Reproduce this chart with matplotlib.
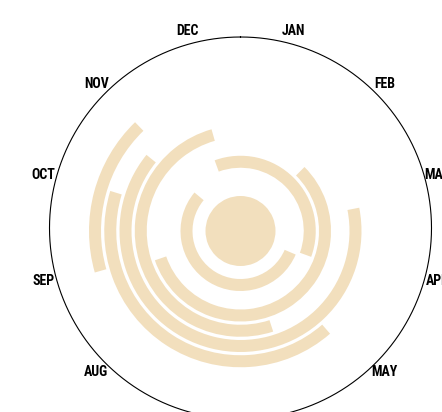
import numpy as np
import matplotlib
matplotlib.use("Agg")
import matplotlib.pyplot as plt

# months around the dial (clockwise, Jan centred just right of top)
months = ['JAN', 'FEB', 'MAR', 'APR', 'MAY', 'JUN',
          'JUL', 'AUG', 'SEP', 'OCT', 'NOV', 'DEC']

# each ring: start / end in months since Jan 1 (end may pass 12 = wraps into next year)
ring_start = [3.77, 11.33, 1.50, 5.40, 2.63, 4.63, 8.47]
ring_end   = [10.33, 15.67, 8.37, 11.47, 10.30, 9.57, 10.53]

beige = '#f2dfbd'
W, H = 442, 412


def polar_axes(cx, cy, Rax):
    # polar axes whose data radius is in pixels, centre (cx, cy) from top-left
    a = fig.add_axes([(cx - Rax) / W, (H - cy - Rax) / H, 2 * Rax / W, 2 * Rax / H],
                     projection='polar')
    a.set_theta_zero_location('N')
    a.set_theta_direction(-1)
    a.set_ylim(0, Rax)
    a.set_axis_off()
    return a


fig = plt.figure(figsize=(W / 100, H / 100), dpi=100)

# outer ring + month labels
R = 191
frame = polar_axes(240.5, 228, R + 5)
th_circle = np.linspace(0, 2 * np.pi, 721)
frame.plot(th_circle, np.full_like(th_circle, R), color='black', lw=0.8,
           clip_on=False, solid_joinstyle='round')
for i, m in enumerate(months):
    th = (i + 0.5) / 12 * 2 * np.pi
    frame.text(th, 204, m, ha='center', va='center',
               fontsize=10, fontweight='bold',
               family=['Roboto Condensed', 'Liberation Sans Narrow', 'DejaVu Sans'],
               clip_on=False)

# rings
ax = polar_axes(240.5, 231, R + 5)

# centre disk
ax.bar(0, 35, width=2 * np.pi, bottom=0, color=beige, linewidth=0)

r0, step, thick = 54, 15.25, 12
for i in range(len(ring_start)):
    t0 = ring_start[i] / 12 * 2 * np.pi
    t1 = ring_end[i] / 12 * 2 * np.pi
    r = r0 + i * step
    ax.bar(t0, thick, width=t1 - t0, bottom=r - thick / 2, align='edge',
           color=beige, linewidth=0)

fig.savefig('out.png', dpi=100)
